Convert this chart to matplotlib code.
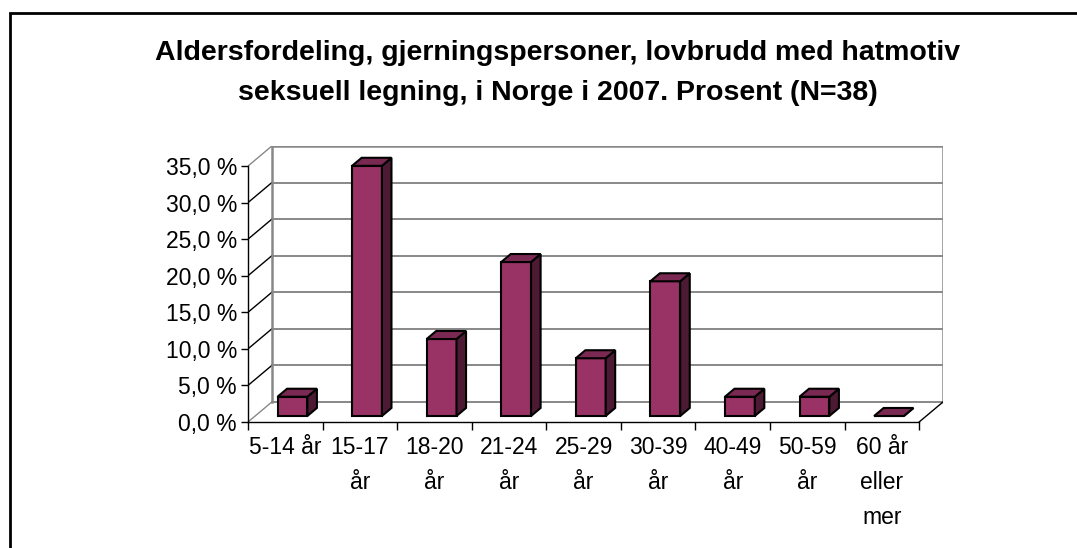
import matplotlib
matplotlib.use("Agg")
import matplotlib.pyplot as plt
from matplotlib.patches import Polygon, Rectangle

plt.rcParams['font.family'] = ['Liberation Sans', 'DejaVu Sans']

categories = ["5-14 år", "15-17\når", "18-20\når", "21-24\når", "25-29\når",
              "30-39\når", "40-49\når", "50-59\når", "60 år\neller\nmer"]
counts = [1, 13, 4, 8, 3, 7, 1, 1, 0]
total = 38
percent = [c / total * 100 for c in counts]
y_ticks = [0, 5, 10, 15, 20, 25, 30, 35]
title_lines = ["Aldersfordeling, gjerningspersoner, lovbrudd med hatmotiv",
               "seksuell legning, i Norge i 2007. Prosent (N=38)"]

FACE = "#993366"
SIDE = "#4d1a33"
TOP = "#7a2952"
WALL = "#888888"

# depth of the 3D box in data units
DX, DY = 0.32, 2.74
n = len(categories)
ymax = y_ticks[-1]

fig = plt.figure(figsize=(10.77, 5.48), dpi=100)
ax = fig.add_axes([248 / 1077, 126 / 548, 695 / 1077, 276 / 548])
ax.set_xlim(0, n + DX)
ax.set_ylim(0, ymax + DY)

# back wall + gridlines
for t in y_ticks:
    ax.plot([DX, n + DX], [t + DY, t + DY], color=WALL, lw=1.4, zorder=1)
    ax.plot([0, DX], [t, t + DY], color="black" if t not in (0, ymax) else WALL,
            lw=1.0, zorder=1)
ax.plot([DX, DX], [DY, ymax + DY], color=WALL, lw=1.8, zorder=1)
ax.plot([n + DX, n + DX], [DY, ymax + DY], color=WALL, lw=1.8, zorder=1)
ax.plot([DX, n + DX], [ymax + DY, ymax + DY], color=WALL, lw=1.8, zorder=1)
ax.plot([n, n + DX], [0, DY], color="black", lw=1.0, zorder=1)

# bars: front face through ax.bar, top and side as polygons
w = 0.4
d0, d1 = 0.3, 0.7
xc = [i + 0.5 for i in range(n)]
ax.bar([x + d0 * DX for x in xc], percent, width=w, bottom=d0 * DY,
       color=FACE, edgecolor="black", lw=1.5, zorder=3)
for x, v in zip(xc, percent):
    l = x - w / 2 + d0 * DX
    r = x + w / 2 + d0 * DX
    b = d0 * DY
    ddx, ddy = (d1 - d0) * DX, (d1 - d0) * DY
    top = [(l, b + v), (r, b + v), (r + ddx, b + v + ddy), (l + ddx, b + v + ddy)]
    side = [(r, b), (r + ddx, b + ddy), (r + ddx, b + v + ddy), (r, b + v)]
    ax.add_patch(Polygon(side, closed=True, facecolor=SIDE, edgecolor="black",
                         lw=1.5, zorder=3))
    ax.add_patch(Polygon(top, closed=True, facecolor=TOP, edgecolor="black",
                         lw=1.5, zorder=3))

for s in ("top", "right"):
    ax.spines[s].set_visible(False)
ax.spines["left"].set_bounds(0, ymax)
ax.spines["bottom"].set_bounds(0, n)
ax.spines["left"].set_linewidth(1.0)
ax.spines["bottom"].set_linewidth(1.0)
ax.patch.set_visible(False)

ax.set_yticks(y_ticks)
ax.set_yticklabels([f"{t:.1f}".replace(".", ",") + " %" for t in y_ticks])
ax.tick_params(axis="y", length=5, width=1.0, labelsize=16.5, pad=3)
ax.set_xticks(range(n + 1), minor=True)
ax.set_xticks(xc)
ax.set_xticklabels(categories, linespacing=1.68, va="top")
ax.tick_params(axis="x", which="major", length=0, labelsize=16.5, pad=10)
ax.tick_params(axis="x", which="minor", length=6, width=1.0)

fig.text(558 / 1077, 1 - 53 / 548, title_lines[0], ha="center", va="center",
         fontsize=20.5, fontweight="bold")
fig.text(558 / 1077, 1 - 93 / 548, title_lines[1], ha="center", va="center",
         fontsize=20.5, fontweight="bold")

fig.patches.append(Rectangle((10 / 1077, -0.1), 2, 1.1 - 13 / 548, fill=False,
                             lw=2.0, edgecolor="black", transform=fig.transFigure))

fig.savefig("out.png", dpi=100)
